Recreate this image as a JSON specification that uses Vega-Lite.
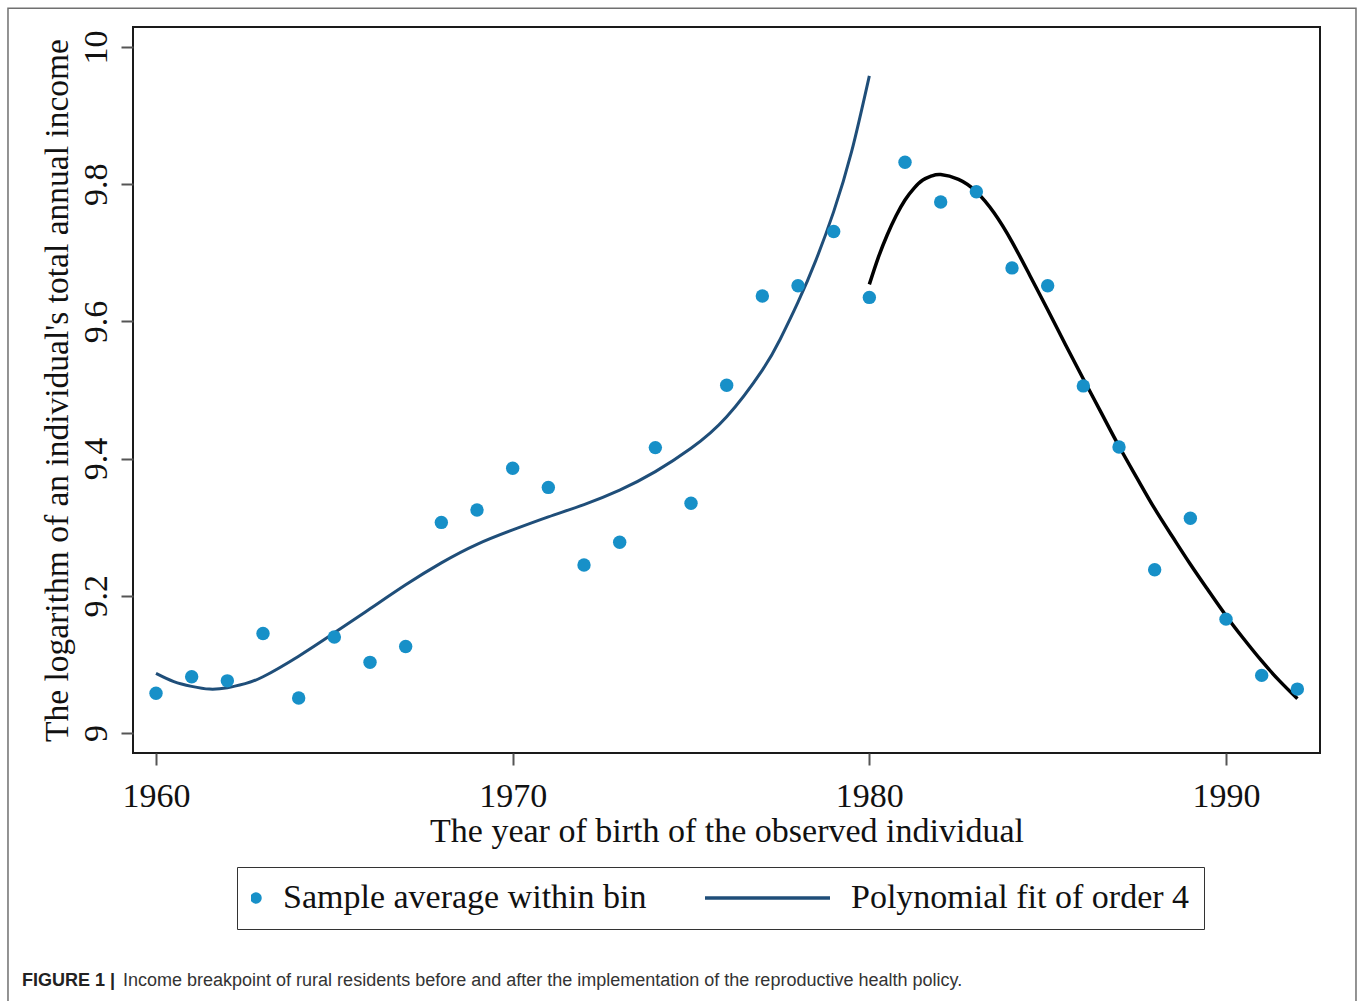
{
  "$schema": "https://vega.github.io/schema/vega-lite/v6.json",
  "width": 1187,
  "height": 726,
  "autosize": "none",
  "padding": {"left": 133, "top": 27, "right": 38, "bottom": 248},
  "background": "white",
  "config": {
    "view": {"stroke": "#1a1a1a", "strokeWidth": 2},
    "font": "Liberation Serif"
  },
  "datasets": {
    "points": [
      {"year": 1960, "value": 9.058, "series": "Sample average within bin"},
      {"year": 1961, "value": 9.082, "series": "Sample average within bin"},
      {"year": 1962, "value": 9.076, "series": "Sample average within bin"},
      {"year": 1963, "value": 9.145, "series": "Sample average within bin"},
      {"year": 1964, "value": 9.051, "series": "Sample average within bin"},
      {"year": 1965, "value": 9.140, "series": "Sample average within bin"},
      {"year": 1966, "value": 9.103, "series": "Sample average within bin"},
      {"year": 1967, "value": 9.126, "series": "Sample average within bin"},
      {"year": 1968, "value": 9.307, "series": "Sample average within bin"},
      {"year": 1969, "value": 9.325, "series": "Sample average within bin"},
      {"year": 1970, "value": 9.386, "series": "Sample average within bin"},
      {"year": 1971, "value": 9.358, "series": "Sample average within bin"},
      {"year": 1972, "value": 9.245, "series": "Sample average within bin"},
      {"year": 1973, "value": 9.278, "series": "Sample average within bin"},
      {"year": 1974, "value": 9.416, "series": "Sample average within bin"},
      {"year": 1975, "value": 9.335, "series": "Sample average within bin"},
      {"year": 1976, "value": 9.507, "series": "Sample average within bin"},
      {"year": 1977, "value": 9.637, "series": "Sample average within bin"},
      {"year": 1978, "value": 9.652, "series": "Sample average within bin"},
      {"year": 1979, "value": 9.731, "series": "Sample average within bin"},
      {"year": 1980, "value": 9.635, "series": "Sample average within bin"},
      {"year": 1981, "value": 9.832, "series": "Sample average within bin"},
      {"year": 1982, "value": 9.774, "series": "Sample average within bin"},
      {"year": 1983, "value": 9.789, "series": "Sample average within bin"},
      {"year": 1984, "value": 9.678, "series": "Sample average within bin"},
      {"year": 1985, "value": 9.652, "series": "Sample average within bin"},
      {"year": 1986, "value": 9.506, "series": "Sample average within bin"},
      {"year": 1987, "value": 9.417, "series": "Sample average within bin"},
      {"year": 1988, "value": 9.238, "series": "Sample average within bin"},
      {"year": 1989, "value": 9.313, "series": "Sample average within bin"},
      {"year": 1990, "value": 9.166, "series": "Sample average within bin"},
      {"year": 1991, "value": 9.084, "series": "Sample average within bin"},
      {"year": 1992, "value": 9.064, "series": "Sample average within bin"}
    ],
    "fitLeft": [
      {"year": 1960.0, "value": 9.087, "series": "Polynomial fit of order 4"},
      {"year": 1960.5, "value": 9.075, "series": "Polynomial fit of order 4"},
      {"year": 1961.0, "value": 9.068, "series": "Polynomial fit of order 4"},
      {"year": 1961.5, "value": 9.064, "series": "Polynomial fit of order 4"},
      {"year": 1962.0, "value": 9.066, "series": "Polynomial fit of order 4"},
      {"year": 1962.5, "value": 9.072, "series": "Polynomial fit of order 4"},
      {"year": 1963.0, "value": 9.082, "series": "Polynomial fit of order 4"},
      {"year": 1964.0, "value": 9.112, "series": "Polynomial fit of order 4"},
      {"year": 1965.0, "value": 9.146, "series": "Polynomial fit of order 4"},
      {"year": 1966.0, "value": 9.181, "series": "Polynomial fit of order 4"},
      {"year": 1967.0, "value": 9.216, "series": "Polynomial fit of order 4"},
      {"year": 1968.0, "value": 9.248, "series": "Polynomial fit of order 4"},
      {"year": 1969.0, "value": 9.275, "series": "Polynomial fit of order 4"},
      {"year": 1970.0, "value": 9.296, "series": "Polynomial fit of order 4"},
      {"year": 1971.0, "value": 9.315, "series": "Polynomial fit of order 4"},
      {"year": 1972.0, "value": 9.333, "series": "Polynomial fit of order 4"},
      {"year": 1973.0, "value": 9.354, "series": "Polynomial fit of order 4"},
      {"year": 1974.0, "value": 9.381, "series": "Polynomial fit of order 4"},
      {"year": 1975.0, "value": 9.415, "series": "Polynomial fit of order 4"},
      {"year": 1976.0, "value": 9.461, "series": "Polynomial fit of order 4"},
      {"year": 1977.0, "value": 9.529, "series": "Polynomial fit of order 4"},
      {"year": 1977.5, "value": 9.574, "series": "Polynomial fit of order 4"},
      {"year": 1978.0, "value": 9.628, "series": "Polynomial fit of order 4"},
      {"year": 1978.5, "value": 9.689, "series": "Polynomial fit of order 4"},
      {"year": 1979.0, "value": 9.760, "series": "Polynomial fit of order 4"},
      {"year": 1979.5, "value": 9.847, "series": "Polynomial fit of order 4"},
      {"year": 1980.0, "value": 9.958, "series": "Polynomial fit of order 4"}
    ],
    "fitRight": [
      {"year": 1980.0, "value": 9.654},
      {"year": 1980.25, "value": 9.693},
      {"year": 1980.5, "value": 9.726},
      {"year": 1980.75, "value": 9.754},
      {"year": 1981.0, "value": 9.777},
      {"year": 1981.25, "value": 9.794},
      {"year": 1981.5, "value": 9.806},
      {"year": 1981.75, "value": 9.812},
      {"year": 1982.0, "value": 9.814},
      {"year": 1982.5, "value": 9.807},
      {"year": 1983.0, "value": 9.789},
      {"year": 1983.5, "value": 9.758},
      {"year": 1984.0, "value": 9.716},
      {"year": 1984.5, "value": 9.667},
      {"year": 1985.0, "value": 9.617},
      {"year": 1985.5, "value": 9.566},
      {"year": 1986.0, "value": 9.516},
      {"year": 1986.5, "value": 9.467},
      {"year": 1987.0, "value": 9.418},
      {"year": 1987.5, "value": 9.372},
      {"year": 1988.0, "value": 9.327},
      {"year": 1988.5, "value": 9.286},
      {"year": 1989.0, "value": 9.246},
      {"year": 1989.5, "value": 9.208},
      {"year": 1990.0, "value": 9.171},
      {"year": 1990.5, "value": 9.137},
      {"year": 1991.0, "value": 9.105},
      {"year": 1991.5, "value": 9.076},
      {"year": 1992.0, "value": 9.050}
    ],
    "caption": [
      {"part": "label", "text": "FIGURE 1 |"},
      {"part": "body", "text": "Income breakpoint of rural residents before and after the implementation of the reproductive health policy."}
    ],
    "frame": [
      {"name": "outer frame"}
    ]
  },
  "encoding": {
    "x": {
      "type": "quantitative",
      "scale": {"domain": [1959.355, 1992.635], "nice": false, "zero": false},
      "axis": {
        "values": [1960, 1970, 1980, 1990],
        "format": "d",
        "grid": false,
        "domain": false,
        "tickSize": 12,
        "tickWidth": 2,
        "tickColor": "#555555",
        "labelFont": "Liberation Serif",
        "labelFontSize": 34,
        "labelColor": "#111111",
        "labelPadding": 14,
        "title": "The year of birth of the observed individual",
        "titleFont": "Liberation Serif",
        "titleFontSize": 34,
        "titleFontWeight": "normal",
        "titleColor": "#111111",
        "titlePadding": 1
      }
    },
    "y": {
      "type": "quantitative",
      "scale": {"domain": [8.97085, 10.02915], "nice": false, "zero": false},
      "axis": {
        "values": [9, 9.2, 9.4, 9.6, 9.8, 10],
        "labelExpr": "'' + datum.value",
        "grid": false,
        "domain": false,
        "tickSize": 12,
        "tickWidth": 2,
        "tickColor": "#555555",
        "labelAngle": 270,
        "labelAlign": "center",
        "labelBaseline": "bottom",
        "labelFont": "Liberation Serif",
        "labelFontSize": 34,
        "labelColor": "#111111",
        "labelPadding": 8,
        "title": "The logarithm of an individual's total annual income",
        "titleFont": "Liberation Serif",
        "titleFontSize": 33.5,
        "titleFontWeight": "normal",
        "titleColor": "#111111",
        "titlePadding": 5
      }
    }
  },
  "layer": [
    {
      "data": {"name": "frame"},
      "mark": {"type": "rect", "fill": "transparent", "stroke": "#707070", "strokeWidth": 1.5, "width": 1348, "height": 1100, "clip": false},
      "encoding": {
        "x": {"datum": 1974.747},
        "y": {"datum": 9.2549}
      }
    },
    {
      "mark": {"type": "rule", "color": "#3a3a3a", "strokeWidth": 2},
      "encoding": {"x": {"datum": 1980}}
    },
    {
      "data": {"name": "fitLeft"},
      "mark": {"type": "line", "strokeWidth": 3, "interpolate": "natural"},
      "encoding": {
        "x": {"field": "year", "type": "quantitative"},
        "y": {"field": "value", "type": "quantitative"},
        "color": {
          "field": "series",
          "type": "nominal",
          "scale": {"domain": ["Sample average within bin", "Polynomial fit of order 4"], "range": ["#1790c8", "#1f4e79"]},
          "legend": {
            "orient": "none",
            "legendX": 104,
            "legendY": 840,
            "direction": "horizontal",
            "title": null,
            "strokeColor": "#333333",
            "fillColor": "white",
            "padding": 14,
            "clipHeight": 34,
            "labelFont": "Liberation Serif",
            "labelFontSize": 34,
            "labelColor": "#111111",
            "labelLimit": 600,
            "labelExpr": "datum.label == 'Polynomial fit of order 4' ? datum.label + '\u00a0\u00a0' : datum.label",
            "columnPadding": 58,
            "encode": {
              "symbols": {
                "update": {
                  "shape": {"signal": "datum.value == 'Sample average within bin' ? 'circle' : 'stroke'"},
                  "size": {"signal": "datum.value == 'Sample average within bin' ? 133 : 15625"},
                  "strokeWidth": {"signal": "datum.value == 'Sample average within bin' ? 0 : 3.5"},
                  "fill": {"signal": "datum.value == 'Sample average within bin' ? '#1790c8' : 'transparent'"},
                  "stroke": {"signal": "datum.value == 'Sample average within bin' ? 'transparent' : '#1f4e79'"},
                  "x": {"signal": "datum.value == 'Sample average within bin' ? 5 : 62.5"},
                  "opacity": {"value": 1}
                }
              },
              "labels": {
                "update": {
                  "x": {"signal": "datum.value == 'Sample average within bin' ? 32 : 146"}
                }
              }
            }
          }
        }
      }
    },
    {
      "data": {"name": "fitRight"},
      "mark": {"type": "line", "strokeWidth": 3.5, "color": "#000000", "interpolate": "natural"},
      "encoding": {
        "x": {"field": "year", "type": "quantitative"},
        "y": {"field": "value", "type": "quantitative"}
      }
    },
    {
      "data": {"name": "points"},
      "mark": {"type": "point", "filled": true, "opacity": 1, "size": 180, "shape": "circle"},
      "encoding": {
        "x": {"field": "year", "type": "quantitative"},
        "y": {"field": "value", "type": "quantitative"},
        "color": {"field": "series", "type": "nominal"}
      }
    },
    {
      "data": {"name": "caption"},
      "transform": [{"filter": "datum.part == 'label'"}],
      "mark": {"type": "text", "align": "left", "baseline": "middle", "font": "Liberation Sans", "fontSize": 18, "fontWeight": "bold", "color": "#222222"},
      "encoding": {
        "x": {"datum": 1956.242},
        "y": {"datum": 8.6387},
        "text": {"field": "text"}
      }
    },
    {
      "data": {"name": "caption"},
      "transform": [{"filter": "datum.part == 'body'"}],
      "mark": {"type": "text", "align": "left", "baseline": "middle", "font": "Liberation Sans", "fontSize": 18, "color": "#333333"},
      "encoding": {
        "x": {"datum": 1959.075},
        "y": {"datum": 8.6387},
        "text": {"field": "text"}
      }
    }
  ]
}
